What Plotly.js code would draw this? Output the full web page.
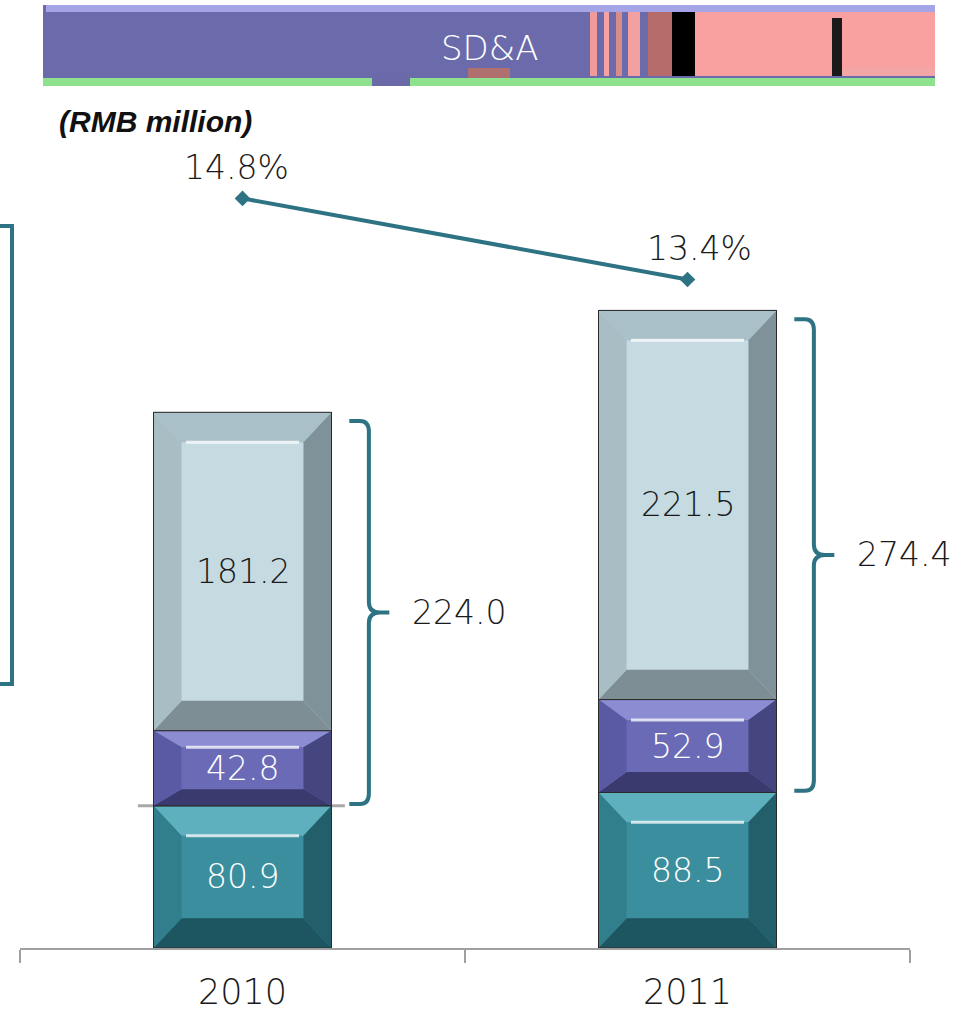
<!DOCTYPE html>
<html><head><meta charset="utf-8">
<script src="https://cdn.plot.ly/plotly-3.0.1.min.js"></script>
<style>html,body{margin:0;padding:0;background:#fff;}</style>
</head><body>
<div id="chart" style="width:966px;height:1014px;"></div>
<script>
// ---- data ----
const years = ['2010', '2011'];
const seriesBottom = [80.9, 88.5];   // teal
const seriesMiddle = [42.8, 52.9];   // purple
const seriesTop = [181.2, 221.5];    // light grey-blue
const subtotals = [224.0, 274.4];    // middle + top
const ratioPct = [14.8, 13.4];
const unitLabel = '(RMB million)';
const bannerTitle = 'SD&A';

// ---- layout helpers (page pixel -> paper) ----
const M = {l: 20, r: 56, t: 100, b: 66};
const W = 966, H = 1014;
const PW = W - M.l - M.r, PH = H - M.t - M.b;
const X = px => (px - M.l) / PW;
const Y = py => (H - M.b - py) / PH;

const TEAL = '#2e7384';
const numFont = {family: 'DejaVu Sans', size: 33, color: '#1a1a1a', weight: 200};
const BW = 0.4, HB = BW / 2;

const segStyles = [
  {face: '#3b8e9d', top: '#5eb0bf', bot: '#1d5561', left: '#317e8c', right: '#225f6b', txt: '#ffffff'},
  {face: '#6a6ab6', top: '#8c8cd2', bot: '#3a3a6e', left: '#5a5aa4', right: '#45457f', txt: '#ffffff'},
  {face: '#c6dae2', top: '#aac0c8', bot: '#7e8e95', left: '#a9bdc5', right: '#7f9199', txt: '#1a1a1a'}
];
const seriesList = [seriesBottom, seriesMiddle, seriesTop];

const traces = seriesList.map((s, k) => ({
  type: 'bar', x: years, y: s, width: BW,
  marker: {color: segStyles[k].face, line: {color: '#2a2a2a', width: 1}},
  hoverinfo: 'skip', showlegend: false
}));

traces.push({
  type: 'scatter', mode: 'lines+markers', x: years, y: ratioPct, yaxis: 'y2',
  line: {color: TEAL, width: 4},
  marker: {symbol: 'diamond', size: 12, color: TEAL},
  hoverinfo: 'skip', showlegend: false
});

const shapes = [];
const annotations = [];

// bevel shapes and value labels
years.forEach((yr, i) => {
  let base = 0;
  seriesList.forEach((s, k) => {
    const y0 = base, y1 = base + s[i];
    const x0 = i - HB, x1 = i + HB;
    const hx = 0.063;
    const vy = Math.min(17, 0.22 * (y1 - y0));
    const st = segStyles[k];
    const P = pts => 'M ' + pts.map(p => p[0] + ',' + p[1]).join(' L ') + ' Z';
    const add = (path, col) => shapes.push({type: 'path', xref: 'x', yref: 'y', path: path, fillcolor: col, line: {width: 0}, layer: 'above'});
    add(P([[x0, y1], [x1, y1], [x1 - hx, y1 - vy], [x0 + hx, y1 - vy]]), st.top);
    add(P([[x0, y0], [x1, y0], [x1 - hx, y0 + vy], [x0 + hx, y0 + vy]]), st.bot);
    add(P([[x0, y0], [x0, y1], [x0 + hx, y1 - vy], [x0 + hx, y0 + vy]]), st.left);
    add(P([[x1, y0], [x1, y1], [x1 - hx, y1 - vy], [x1 - hx, y0 + vy]]), st.right);
    shapes.push({type: 'line', xref: 'x', yref: 'y', x0: x0 + hx + 0.01, x1: x1 - hx - 0.01, y0: y1 - vy, y1: y1 - vy,
      line: {color: 'rgba(255,255,255,0.75)', width: 3}, layer: 'above'});
    shapes.push({type: 'rect', xref: 'x', yref: 'y', x0: x0, x1: x1, y0: y0, y1: y1,
      line: {color: '#2a2a2a', width: 1}, fillcolor: 'rgba(0,0,0,0)', layer: 'above'});
    annotations.push({x: i, y: (y0 + y1) / 2, xref: 'x', yref: 'y', text: s[i].toFixed(1), showarrow: false,
      font: Object.assign({}, numFont, {color: st.txt}), xanchor: 'center', yanchor: 'middle'});
    base = y1;
  });
});

// grey shadow line under 2010 middle segment
shapes.push({type: 'line', xref: 'x', yref: 'y', x0: -0.235, x1: 0.23, y0: seriesBottom[0], y1: seriesBottom[0],
  line: {color: '#a8a8a8', width: 3}, layer: 'below'});

// brackets for subtotals
years.forEach((yr, i) => {
  const yb = seriesBottom[i] + 1;
  const yt = seriesBottom[i] + subtotals[i] - 5;
  const ym = (yb + yt) / 2;
  const xv = i + 0.284, xh = i + 0.24, xt = i + 0.33;
  const path = `M ${xh},${yt} L ${xv - 0.02},${yt} Q ${xv},${yt} ${xv},${yt - 6} L ${xv},${ym + 6} Q ${xv},${ym} ${xv + 0.025},${ym} L ${xt},${ym} ` +
    `M ${xv + 0.025},${ym} Q ${xv},${ym} ${xv},${ym - 6} L ${xv},${yb + 6} Q ${xv},${yb} ${xv - 0.02},${yb} L ${xh},${yb}`;
  shapes.push({type: 'path', xref: 'x', yref: 'y', path: path, line: {color: TEAL, width: 4}, layer: 'above'});
  annotations.push({x: i + 0.376, y: ym, xref: 'x', yref: 'y', text: subtotals[i].toFixed(1), showarrow: false,
    font: numFont, xanchor: 'left', yanchor: 'middle'});
});

// percentage labels
const pctShift = [-6, 12];
years.forEach((yr, i) => {
  annotations.push({x: i, y: ratioPct[i], xref: 'x', yref: 'y2', text: ratioPct[i].toFixed(1) + '%',
    showarrow: false, yshift: 31, xshift: pctShift[i], font: numFont, xanchor: 'center', yanchor: 'middle'});
});

// partial bracket at left edge (from neighbouring graphic)
shapes.push({type: 'path', xref: 'paper', yref: 'paper',
  path: `M ${X(0)},${Y(226)} L ${X(12)},${Y(226)} L ${X(12)},${Y(684)} L ${X(0)},${Y(684)}`,
  line: {color: TEAL, width: 4}});

// banner
const rect = (x0, x1, y0, y1, col) => shapes.push({type: 'rect', xref: 'paper', yref: 'paper',
  x0: X(x0), x1: X(x1), y0: Y(y1), y1: Y(y0), fillcolor: col, line: {width: 0}});
rect(43, 935, 74, 86, '#8ee28e');
rect(372, 410, 74, 86, '#6a6aa8');
rect(43, 935, 5, 78, '#6b6bab');
rect(46, 935, 5, 12, '#a4a4e6');
rect(468, 510, 68, 78, '#b07070');
rect(590, 597, 12, 76, '#f29a9a');
rect(604, 609, 12, 76, '#f6a2a2');
rect(616, 622, 12, 76, '#d88c8c');
rect(628, 640, 12, 76, '#f2a0a0');
rect(648, 672, 12, 76, '#b76c6c');
rect(672, 695, 12, 76, '#000000');
rect(695, 935, 12, 76, '#f9a0a0');
rect(832, 842, 18, 76, '#1a1a1a');
rect(842, 935, 68, 76, '#f2a6a6');

annotations.push({xref: 'paper', yref: 'paper', x: X(490), y: Y(48), text: bannerTitle, showarrow: false,
  font: {family: 'DejaVu Sans', size: 34, color: '#ffffff', weight: 200}, xanchor: 'center', yanchor: 'middle'});
annotations.push({xref: 'paper', yref: 'paper', x: X(57), y: Y(121), text: '<b><i>' + unitLabel + '</i></b>', showarrow: false,
  font: {family: 'Liberation Sans', size: 30, color: '#111111'}, xanchor: 'left', yanchor: 'middle'});

const pxPerUnit = 1.757;
const layout = {
  width: W, height: H, margin: M,
  paper_bgcolor: '#ffffff', plot_bgcolor: '#ffffff',
  barmode: 'stack', showlegend: false,
  xaxis: {type: 'category', categoryorder: 'array', categoryarray: years, range: [-0.5, 1.5],
    showline: true, linecolor: '#a0a0a0', linewidth: 1.5, ticks: 'outside', tickson: 'boundaries',
    ticklen: 13, tickcolor: '#a0a0a0', tickwidth: 1.5, ticklabelstandoff: 12,
    tickfont: {family: 'DejaVu Sans', size: 35, color: '#1a1a1a', weight: 200},
    showgrid: false, zeroline: false, fixedrange: true},
  yaxis: {range: [0, PH / pxPerUnit], visible: false, showgrid: false, zeroline: false, fixedrange: true},
  yaxis2: {overlaying: 'y', range: [1.85, 16.5], visible: false, showgrid: false, zeroline: false},
  shapes: shapes, annotations: annotations
};
Plotly.newPlot('chart', traces, layout, {displayModeBar: false, staticPlot: true});
</script>
</body></html>
